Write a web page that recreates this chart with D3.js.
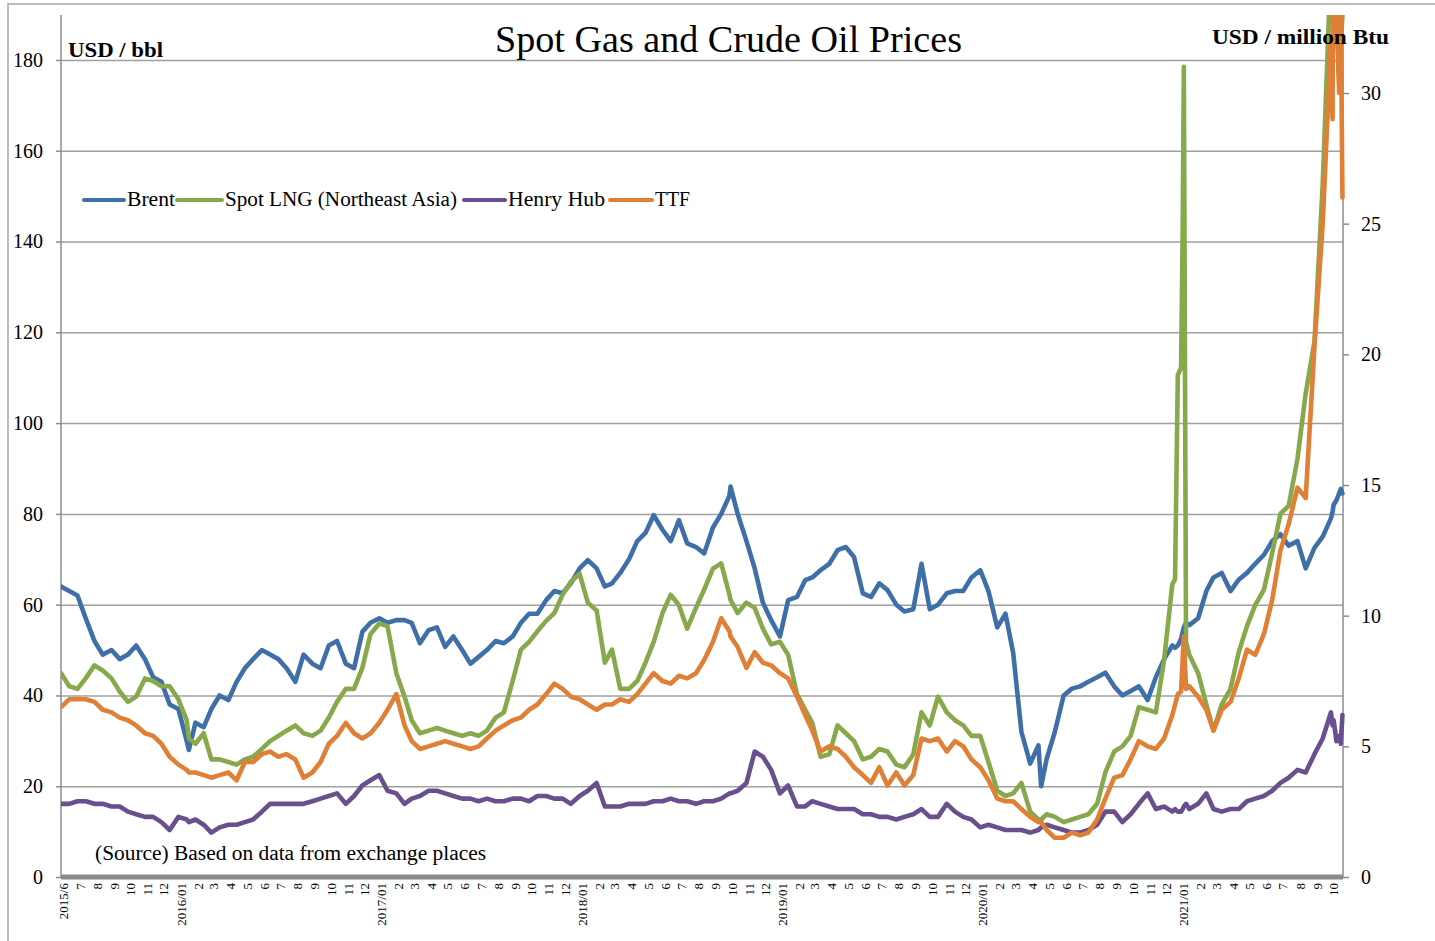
<!DOCTYPE html>
<html><head><meta charset="utf-8">
<script src="https://cdn.jsdelivr.net/npm/d3@7"></script>
<style>body{margin:0;background:#fff}</style>
</head><body>
<svg id="c" width="1435" height="941"></svg>
<script>
// ---------- DATA ----------
const dates = [
"2015-06-01","2015-06-16","2015-07-01","2015-07-16","2015-08-01","2015-08-16","2015-09-01","2015-09-16","2015-10-01","2015-10-16","2015-11-01","2015-11-16","2015-12-01","2015-12-16",
"2016-01-01","2016-01-16","2016-01-20","2016-02-01","2016-02-16","2016-03-01","2016-03-16","2016-04-01","2016-04-16","2016-05-01","2016-05-16","2016-06-01","2016-06-16","2016-07-01","2016-07-16","2016-08-01","2016-08-16","2016-09-01","2016-09-16","2016-10-01","2016-10-16","2016-11-01","2016-11-16","2016-12-01","2016-12-16",
"2017-01-01","2017-01-16","2017-02-01","2017-02-16","2017-03-01","2017-03-16","2017-04-01","2017-04-16","2017-05-01","2017-05-16","2017-06-01","2017-06-16","2017-07-01","2017-07-16","2017-08-01","2017-08-16","2017-09-01","2017-09-16","2017-10-01","2017-10-16","2017-11-01","2017-11-16","2017-12-01","2017-12-16",
"2018-01-01","2018-01-16","2018-02-01","2018-02-16","2018-03-01","2018-03-16","2018-04-01","2018-04-16","2018-05-01","2018-05-16","2018-06-01","2018-06-16","2018-07-01","2018-07-16","2018-08-01","2018-08-16","2018-09-01","2018-09-16","2018-10-01","2018-10-03","2018-10-16","2018-11-01","2018-11-16","2018-12-01","2018-12-16",
"2019-01-01","2019-01-16","2019-02-01","2019-02-16","2019-03-01","2019-03-16","2019-04-01","2019-04-16","2019-05-01","2019-05-16","2019-06-01","2019-06-16","2019-07-01","2019-07-16","2019-08-01","2019-08-16","2019-09-01","2019-09-16","2019-10-01","2019-10-16","2019-11-01","2019-11-16","2019-12-01","2019-12-16",
"2020-01-01","2020-01-16","2020-02-01","2020-02-16","2020-03-01","2020-03-16","2020-04-01","2020-04-16","2020-04-21","2020-05-01","2020-05-16","2020-06-01","2020-06-16","2020-07-01","2020-07-16","2020-08-01","2020-08-16","2020-09-01","2020-09-16","2020-10-01","2020-10-16","2020-11-01","2020-11-16","2020-12-01","2020-12-16","2020-12-21","2020-12-26",
"2021-01-01","2021-01-04","2021-01-06","2021-01-10","2021-01-16","2021-02-01","2021-02-16","2021-03-01","2021-03-16","2021-04-01","2021-04-16","2021-05-01","2021-05-16","2021-06-01","2021-06-16","2021-07-01","2021-07-16","2021-08-01","2021-08-16","2021-09-01","2021-09-16","2021-10-01","2021-10-04","2021-10-06","2021-10-11","2021-10-16","2021-10-19","2021-10-22"
];

// Brent, USD/bbl (left axis)
const brent = [
64,63, 62,57, 52,49, 50,48, 49,51, 48,44, 43,38,
37,30,28, 34,33, 37,40, 39,43, 46,48, 50,49, 48,46, 43,49, 47,46, 51,52, 47,46, 54,56,
57,56, 56.6,56.6, 56,51.5, 54.4,55, 50.7,53, 50,47, 48.5,50, 52,51.5, 53,56, 58,58, 61,63, 62.5,64.7,
68,69.8, 68,64, 64.7,67, 70,74, 75.8,79.7, 76.5,74, 78.6,73.5, 72.7,71.3, 77,80, 84,86,80, 74,68, 60.4,56.6,
53,61, 61.7,65.4, 66,67.6, 69,72, 72.7,70.5, 62.5,61.7, 64.7,63.2, 60,58.5, 59,69, 59,60, 62.5,63, 63,66,
67.6,63, 55,58, 49.4,32, 25,29,20, 26,32, 40,41.5, 42,43, 44,45, 42,40, 41,42, 39,44, 48,51,50.5,51,
52.5,54,55,56,55.5, 57,63, 66,67, 63,65.5, 67,69, 71,74, 75.5,73, 74,68, 72.5,75, 79,80.5,82,83,84.5,85.5,84.5
];

// Spot LNG (Northeast Asia), USD/million Btu (right axis)
const lng = [
7.8,7.3, 7.2,7.6, 8.1,7.9, 7.6,7.1, 6.7,6.9, 7.6,7.5, 7.3,7.3,
6.8,6.0,5.3, 5.1,5.5, 4.5,4.5, 4.4,4.3, 4.5,4.6, 4.9,5.2, 5.4,5.6, 5.8,5.5, 5.4,5.6, 6.1,6.7, 7.2,7.2, 8.0,9.3,
9.7,9.6, 7.8,6.9, 6.0,5.5, 5.6,5.7, 5.6,5.5, 5.4,5.5, 5.4,5.6, 6.1,6.3, 7.5,8.7, 9.0,9.4, 9.8,10.1, 10.8,11.3,
11.6,10.5, 10.2,8.2, 8.7,7.2, 7.2,7.5, 8.2,9.0, 10.1,10.8, 10.4,9.5, 10.3,11.0, 11.8,12.0, 10.8,10.6,10.1, 10.5,10.3, 9.5,8.9,
9.0,8.5, 7.0,6.4, 5.9,4.6, 4.7,5.8, 5.5,5.2, 4.5,4.6, 4.9,4.8, 4.3,4.2, 4.7,6.3, 5.8,6.9, 6.3,6.0, 5.8,5.4,
5.4,4.4, 3.3,3.1, 3.2,3.6, 2.5,2.2,2.2, 2.4,2.3, 2.1,2.2, 2.3,2.4, 2.8,4.0, 4.8,5.0, 5.4,6.5, 6.4,6.3, 8.3,11.2,11.4,19.2,
19.5,25,31,9.0,8.5, 7.8,6.6, 5.6,6.6, 7.2,8.6, 9.6,10.4, 11.0,12.4, 13.9,14.2, 16.0,18.5, 20.5,26.5, 35,40,56,38,34,31.8,33
];

// Henry Hub, USD/million Btu (right axis)
const henryHub = [
2.8,2.8, 2.9,2.9, 2.8,2.8, 2.7,2.7, 2.5,2.4, 2.3,2.3, 2.1,1.8,
2.3,2.2,2.1, 2.2,2.0, 1.7,1.9, 2.0,2.0, 2.1,2.2, 2.5,2.8, 2.8,2.8, 2.8,2.8, 2.9,3.0, 3.1,3.2, 2.8,3.1, 3.5,3.7,
3.9,3.3, 3.2,2.8, 3.0,3.1, 3.3,3.3, 3.2,3.1, 3.0,3.0, 2.9,3.0, 2.9,2.9, 3.0,3.0, 2.9,3.1, 3.1,3.0, 3.0,2.8,
3.1,3.3, 3.6,2.7, 2.7,2.7, 2.8,2.8, 2.8,2.9, 2.9,3.0, 2.9,2.9, 2.8,2.9, 2.9,3.0, 3.2,3.2,3.3, 3.6,4.8, 4.6,4.1,
3.2,3.5, 2.7,2.7, 2.9,2.8, 2.7,2.6, 2.6,2.6, 2.4,2.4, 2.3,2.3, 2.2,2.3, 2.4,2.6, 2.3,2.3, 2.8,2.5, 2.3,2.2,
1.9,2.0, 1.9,1.8, 1.8,1.8, 1.7,1.8,1.9, 2.0,1.9, 1.8,1.7, 1.7,1.8, 2.0,2.5, 2.5,2.1, 2.4,2.8, 3.2,2.6, 2.7,2.5,2.6,2.5,
2.5,2.6,2.7,2.8,2.6, 2.8,3.2, 2.6,2.5, 2.6,2.6, 2.9,3.0, 3.1,3.3, 3.6,3.8, 4.1,4.0, 4.7,5.3, 6.3,5.8,6.0,5.2,5.4,5.1,6.2
];

// TTF, USD/million Btu (right axis)
const ttf = [
6.5,6.8, 6.8,6.8, 6.7,6.4, 6.3,6.1, 6.0,5.8, 5.5,5.4, 5.1,4.6,
4.3,4.1,4.0, 4.0,3.9, 3.8,3.9, 4.0,3.7, 4.4,4.4, 4.7,4.8, 4.6,4.7, 4.5,3.8, 4.0,4.4, 5.1,5.4, 5.9,5.5, 5.3,5.5,
5.9,6.4, 7.0,5.8, 5.2,4.9, 5.0,5.1, 5.2,5.1, 5.0,4.9, 5.0,5.3, 5.6,5.8, 6.0,6.1, 6.4,6.6, 7.0,7.4, 7.2,6.9,
6.8,6.6, 6.4,6.6, 6.6,6.8, 6.7,7.0, 7.4,7.8, 7.5,7.4, 7.7,7.6, 7.8,8.3, 9.0,9.9, 9.4,9.2,8.8, 8.0,8.6, 8.2,8.1,
7.8,7.6, 6.9,6.2, 5.6,4.8, 5.0,4.9, 4.6,4.2, 3.9,3.6, 4.2,3.5, 4.0,3.5, 3.9,5.3, 5.2,5.3, 4.8,5.2, 5.0,4.5,
4.2,3.7, 3.0,2.9, 2.9,2.6, 2.3,2.1,2.1, 1.8,1.5, 1.5,1.7, 1.6,1.7, 2.2,3.0, 3.8,3.9, 4.5,5.2, 5.0,4.9, 5.3,6.2,6.6,7.0,
7.1,8.4,9.2,7.2,7.3, 6.9,6.4, 5.6,6.4, 6.7,7.6, 8.7,8.5, 9.3,10.6, 12.5,13.5, 14.9,14.5, 20.3,25, 32,29,45,33,30,33,26
];

const leftTicks = [0,20,40,60,80,100,120,140,160,180];
const rightTicks = [0,5,10,15,20,25,30];
const seriesNames = ["Brent","Spot LNG (Northeast Asia)","Henry Hub","TTF"];
const seriesColors = ["#3f6fa9","#87a84b","#6a4f8e","#e07f36"];
const titleText = "Spot Gas and Crude Oil Prices";
const leftUnit = "USD / bbl";
const rightUnit = "USD / million Btu";
const sourceText = "(Source) Based on data from exchange places";

// ---------- CHART ----------
const FONT = "'Liberation Serif', 'Times New Roman', serif";
const svg = d3.select("#c");
const L = 61, R = 1343, T = 15, B = 877;
const parse = d3.timeParse("%Y-%m-%d");
const dts = dates.map(parse);

const x = d3.scaleTime().domain([parse("2015-06-01"), parse("2021-10-23")]).range([L, R]);
const yL = d3.scaleLinear().domain([0, 190]).range([B, T - 0.4]);
const yR = d3.scaleLinear().domain([0, 33]).range([B, T - 0.4]);

// outer frame
svg.append("rect").attr("x", 8).attr("y", 4).attr("width", 1450).attr("height", 960)
  .attr("fill", "none").attr("stroke", "#a6a6a6").attr("stroke-width", 1.5);

// gridlines
svg.append("g").attr("transform", `translate(${L},0)`)
  .call(d3.axisLeft(yL).tickValues(leftTicks.filter(d => d > 0)).tickSize(-(R - L)).tickFormat(""))
  .call(g => g.select(".domain").remove())
  .call(g => g.selectAll("line").attr("stroke", "#a0a0a0").attr("stroke-width", 1.5));

// left axis
const gl = svg.append("g").attr("transform", `translate(${L},0)`)
  .call(d3.axisLeft(yL).tickValues(leftTicks).tickSize(5).tickPadding(13));
gl.select(".domain").attr("d", `M0,${T}V${B}`).attr("stroke", "#8c8c8c").attr("stroke-width", 1.5);
gl.selectAll(".tick line").attr("stroke", "#8c8c8c").attr("stroke-width", 1.5);
gl.selectAll("text").attr("font-family", FONT).attr("font-size", 20).attr("fill", "#000");

// right axis
const gr = svg.append("g").attr("transform", `translate(${R},0)`)
  .call(d3.axisRight(yR).tickValues(rightTicks).tickSize(6).tickPadding(12));
gr.select(".domain").attr("d", `M0,${T}V${B}`).attr("stroke", "#8c8c8c").attr("stroke-width", 1.5);
gr.selectAll(".tick line").attr("stroke", "#8c8c8c").attr("stroke-width", 1.5);
gr.selectAll("text").attr("font-family", FONT).attr("font-size", 20).attr("fill", "#000");

// bottom axis with monthly labels
const months = d3.timeMonth.range(parse("2015-06-01"), parse("2021-10-02"));
const fmtMonth = (d, i) => i === 0 ? "2015/6" : (d.getMonth() === 0 ? d3.timeFormat("%Y/%m")(d) : String(d.getMonth() + 1));
const gb = svg.append("g").attr("transform", `translate(0,${B})`)
  .call(d3.axisBottom(x).tickValues(months).tickSize(0).tickFormat(fmtMonth));
gb.select(".domain").attr("d", `M${L},0H${R}`).attr("stroke", "#8a8a8a").attr("stroke-width", 5);
gb.selectAll("text")
  .attr("font-family", FONT).attr("font-size", 13).attr("fill", "#000")
  .attr("transform", "rotate(-90)").attr("x", -6).attr("y", 2).attr("dy", "0.35em")
  .style("text-anchor", "end");

// lines
svg.append("clipPath").attr("id", "plotclip").append("rect")
  .attr("x", L).attr("y", T).attr("width", R - L + 2).attr("height", B - T);
const plot = svg.append("g").attr("clip-path", "url(#plotclip)");
const series = [
  {vals: brent, scale: yL},
  {vals: lng, scale: yR},
  {vals: henryHub, scale: yR},
  {vals: ttf, scale: yR}
];
series.forEach((s, k) => {
  const line = d3.line().x((d, i) => x(dts[i])).y(d => s.scale(d));
  plot.append("path").datum(s.vals).attr("d", line)
    .attr("fill", "none").attr("stroke", seriesColors[k]).attr("stroke-width", 4.6)
    .attr("stroke-linejoin", "round").attr("stroke-linecap", "round");
});

// title and units
function fitText(sel, w) { return sel.attr("textLength", w).attr("lengthAdjust", "spacingAndGlyphs"); }
fitText(svg.append("text").attr("x", 495).attr("y", 52)
  .attr("font-family", FONT).attr("font-size", 37).text(titleText), 467);
fitText(svg.append("text").attr("x", 68).attr("y", 57)
  .attr("font-family", FONT).attr("font-size", 20).attr("font-weight", "bold").text(leftUnit), 95);
fitText(svg.append("text").attr("x", 1212).attr("y", 44)
  .attr("font-family", FONT).attr("font-size", 20).attr("font-weight", "bold").text(rightUnit), 177);

// legend
const legendPos = [[84, 127, 48], [177, 225, 232], [464, 508, 97], [610, 655, 35]];
const lg = svg.append("g");
seriesNames.forEach((n, k) => {
  const [lx, tx, tw] = legendPos[k];
  lg.append("line").attr("x1", lx).attr("x2", tx - 3).attr("y1", 200).attr("y2", 200)
    .attr("stroke", seriesColors[k]).attr("stroke-width", 4).attr("stroke-linecap", "round");
  fitText(lg.append("text").attr("x", tx).attr("y", 206)
    .attr("font-family", FONT).attr("font-size", 20).text(n), tw);
});

// source
fitText(svg.append("text").attr("x", 95).attr("y", 860)
  .attr("font-family", FONT).attr("font-size", 20).text(sourceText), 391);
</script>
</body></html>
